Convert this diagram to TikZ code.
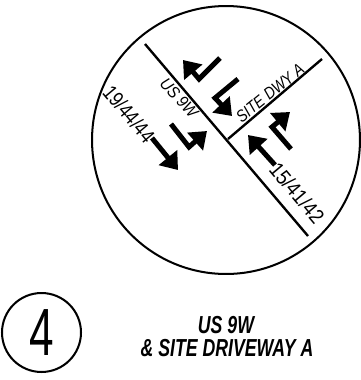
\documentclass[tikz,border=0pt]{standalone}
\usepackage{fontspec}
\setmainfont{Liberation Sans}
\usetikzlibrary{arrows.meta}
\tikzset{
  road/.style={line width=1.35pt},
  lane/.style={line width=.1cm,-{Triangle[length=.32cm,width=.46cm]}},
  volume/.style={font=\fontsize{12}{14}\selectfont,inner sep=0pt},
  street/.style={font=\fontsize{9.5}{11}\selectfont\itshape,inner sep=0pt},
  caption/.style={font=\fontsize{14}{16}\selectfont\bfseries\itshape,inner sep=0pt}
}
\newcommand{\narrow}[2]{\scalebox{#1}[1]{#2}}
\begin{document}
\begin{tikzpicture}[x=.02cm,y=-.02cm]
    \useasboundingbox (0,0) rectangle (360,380);
    \draw[line width=1.15pt] (226,140) circle[radius=2.68cm];
    % roads
    \coordinate (usnorth) at (145,44);
    \coordinate (ussouth) at (308,236);
    \coordinate (junction) at (228,139);
    \coordinate (dwyend) at (322,59);
    \draw[road] (usnorth) -- (ussouth);
    \draw[road] (junction) -- (dwyend);
    % lanes
    \draw[lane] (220,58) -- (199,79) -- (183,60);
    \draw[lane] (238,79) -- (215,98) -- (232,116);
    \draw[lane] (171,124) -- (189,147) -- (207,131);
    \draw[lane] (152,138) -- (178,170);
    \draw[lane] (275,165) -- (248,135);
    \draw[lane] (291,149) -- (272,127) -- (290,112);
    % labels
    \node[street,rotate=-48] (uslabel) at (179,98) {\narrow{.9}{US 9W}};
    \node[street,rotate=39] (dwylabel) at (270,93) {\narrow{.85}{SITE DWY A}};
    \node[volume,rotate=-50] (northvol) at (129,114) {\narrow{.82}{19/44/44}};
    \node[volume,rotate=-50] (southvol) at (297,193) {\narrow{.88}{15/41/42}};
    % title
    \node[draw,circle,line width=1.15pt,minimum size=1.58cm,inner sep=0pt,font=\fontsize{38}{40}\selectfont] (number) at (41.5,332.5) {\narrow{.66}{4}};
    \node[caption] (titleus) at (226,325) {\narrow{.72}{US 9W}};
    \node[caption] (titlesite) at (227,348) {\narrow{.72}{\& SITE DRIVEWAY A}};
\end{tikzpicture}
\end{document}
